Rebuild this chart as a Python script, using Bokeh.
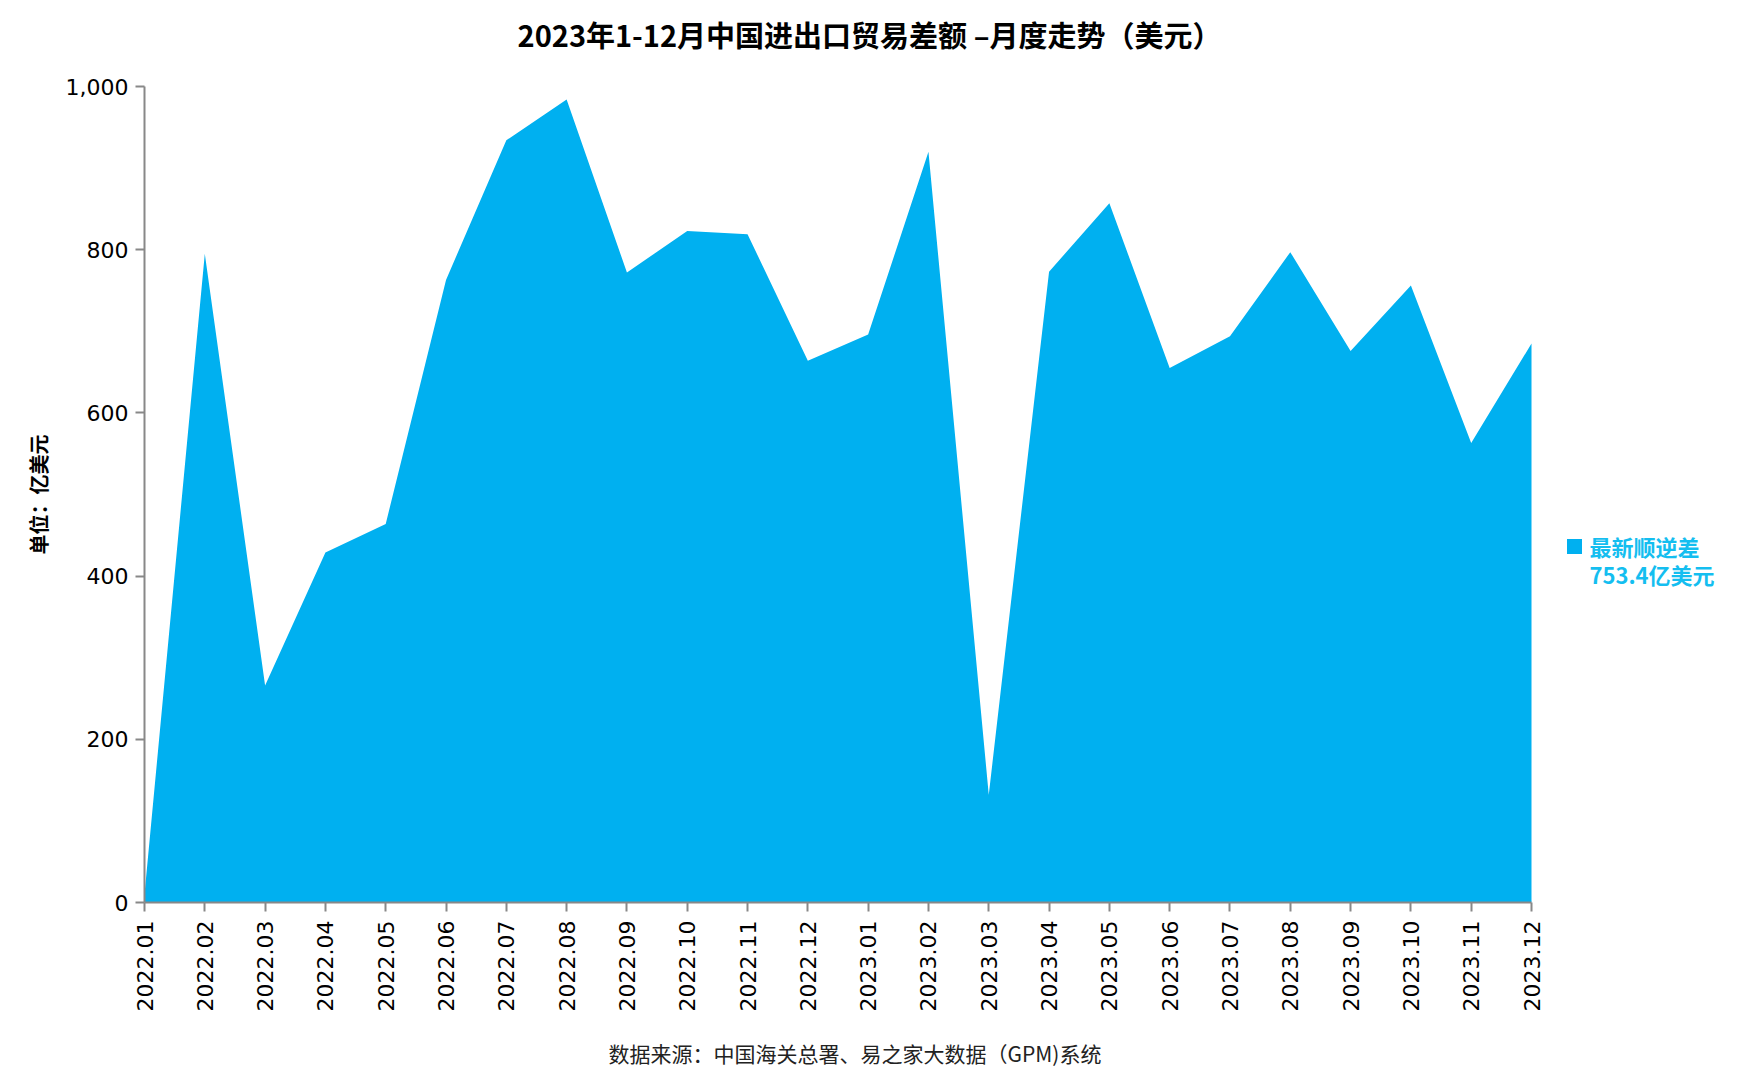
import math
from bokeh.plotting import figure
from bokeh.layouts import column
from bokeh.models import Range1d, FixedTicker, Title, Label
from bokeh.embed import file_html
from bokeh.resources import INLINE

months = ["2022.01", "2022.02", "2022.03", "2022.04", "2022.05", "2022.06",
          "2022.07", "2022.08", "2022.09", "2022.10", "2022.11", "2022.12",
          "2023.01", "2023.02", "2023.03", "2023.04", "2023.05", "2023.06",
          "2023.07", "2023.08", "2023.09", "2023.10", "2023.11", "2023.12"]
balance = [10, 795, 266, 429, 464, 763, 934, 984, 772, 823, 819, 664,
           696, 920, 132, 773, 857, 655, 694, 797, 676, 756, 563, 685]
y_ticks = [0, 200, 400, 600, 800, 1000]

title_text = "2023年1-12月中国进出口贸易差额 –月度走势（美元）"
source_text = "数据来源：中国海关总署、易之家大数据（GPM)系统"
legend_name = "最新顺逆差"
legend_value = "753.4亿美元"
y_label = "单位：亿美元"

AREA = "#00B0F0"
LEG = "#14BEF0"
AX = "#888888"
CJK = "Noto Sans CJK SC"
TICKF = "DejaVu Sans"

W, H = 1740, 1088
TITLE_H = 60                      # height of the title strip
LEFT, AXIS_RIGHT = 144, 1531      # page pixel span of the category axis
TOP_Y, ZERO_Y = 86, 902           # page pixel rows of 1000 and 0
n_last = len(months) - 1
y_max = max(y_ticks)
x_end = n_last * (W - LEFT) / (AXIS_RIGHT - LEFT)

def dxp(px):
    return (px - LEFT) / (AXIS_RIGHT - LEFT) * n_last

def dyp(py):
    return (ZERO_Y - py) / (ZERO_Y - TOP_Y) * y_max

# ---- title strip (frame aligned with the main chart's frame) ----
t = figure(width=W, height=TITLE_H, output_backend="svg", toolbar_location=None,
           x_range=Range1d(0, x_end), y_range=Range1d(0, TITLE_H),
           min_border_left=LEFT, min_border_right=0, min_border_top=0,
           min_border_bottom=0, x_axis_location=None, y_axis_location=None)
t.outline_line_color = None
t.grid.visible = False
t.add_layout(Label(x=dxp(869), y=TITLE_H - 33, text=title_text, text_font=CJK,
                   text_font_size="29px", text_font_style="bold",
                   text_align="center", text_baseline="middle",
                   text_color="#000000"))

# ---- main chart ----
p = figure(width=W, height=H - TITLE_H, output_backend="svg", toolbar_location=None,
           x_range=Range1d(0, x_end), y_range=Range1d(0, y_max),
           min_border_left=LEFT, min_border_right=0,
           min_border_top=TOP_Y - TITLE_H, min_border_bottom=0)
p.outline_line_color = None
p.grid.visible = False

xs = list(range(len(months)))
p.varea(x=xs, y1=[0] * len(xs), y2=balance, fill_color=AREA)

xa = p.xaxis[0]
xa.ticker = FixedTicker(ticks=xs)
xa.bounds = (0, n_last)
xa.major_label_overrides = {i: m for i, m in enumerate(months)}
xa.major_label_orientation = math.pi / 2
xa.minor_tick_line_color = None

ya = p.yaxis[0]
ya.ticker = FixedTicker(ticks=y_ticks)
ya.major_label_overrides = {tk: f"{tk:,}" for tk in y_ticks}
ya.minor_tick_line_color = None
ya.axis_label = y_label
ya.axis_label_text_font = CJK
ya.axis_label_text_font_style = "bold"
ya.axis_label_text_font_size = "20px"
ya.axis_label_text_color = "#000000"
ya.axis_label_standoff = 10

for ax in (xa, ya):
    ax.axis_line_color = AX
    ax.axis_line_width = 2
    ax.major_tick_line_color = AX
    ax.major_tick_line_width = 2
    ax.major_tick_out = 9
    ax.major_tick_in = 0
    ax.major_label_text_font = TICKF
    ax.major_label_text_font_size = "22px"
    ax.major_label_text_color = "#000000"
xa.major_label_standoff = 9
ya.major_label_standoff = 7

# footnote below the category labels
p.add_layout(Title(text=source_text, align="left", offset=464,
                   text_font=CJK, text_font_size="21px", text_font_style="normal",
                   text_color="#222222", standoff=42), "below")

# legend block on the right (inside the frame, which reaches the canvas edge)
p.scatter(x=[dxp(1574)], y=[dyp(546)], marker="square", size=15,
          fill_color=AREA, line_color=None)
p.add_layout(Label(x=dxp(1589), y=dyp(545), text=legend_name, text_font=CJK,
                   text_font_size="22px", text_font_style="bold",
                   text_align="left", text_baseline="middle", text_color=LEG))
p.add_layout(Label(x=dxp(1589), y=dyp(573), text=legend_value, text_font=CJK,
                   text_font_size="22px", text_font_style="bold",
                   text_align="left", text_baseline="middle", text_color=LEG))

layout = column(t, p, spacing=0)
open("out.html", "w").write(file_html(layout, INLINE))
